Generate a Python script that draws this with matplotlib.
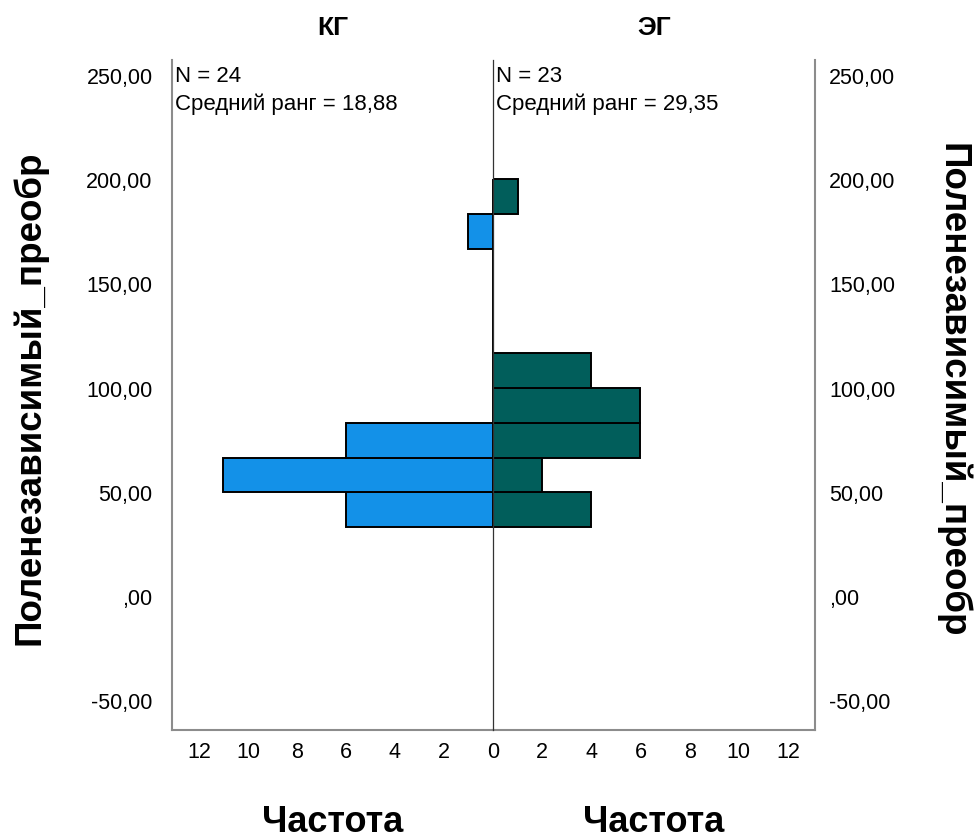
import matplotlib
matplotlib.use("Agg")
import matplotlib.pyplot as plt
from matplotlib import font_manager

# bins of the histogram (value axis)
bin_start = 33.4
bin_width = 16.7
kg_counts = [6, 11, 6, 0, 0, 0, 0, 0, 1, 0]
eg_counts = [4, 2, 6, 6, 4, 0, 0, 0, 0, 1]
group_names = ["КГ", "ЭГ"]
group_n = [24, 23]
mean_ranks = ["18,88", "29,35"]
y_ticks = [-50, 0, 50, 100, 150, 200, 250]
x_ticks_left = [2, 4, 6, 8, 10, 12]
x_ticks_right = [0, 2, 4, 6, 8, 10, 12]
var_name = "Полонезависимый_преобр".replace("Полон", "Полен")

names = {f.name for f in font_manager.fontManager.ttflist}
narrow = "Liberation Sans Narrow" if "Liberation Sans Narrow" in names else "Liberation Sans"
plt.rcParams["font.family"] = ["Liberation Sans", "DejaVu Sans"]

blue = "#1391E8"
teal = "#015E5B"
frame = "#8c8c8c"

fig = plt.figure(figsize=(9.77, 8.4), dpi=100)
ax_l = fig.add_axes([0.176, 0.131, 0.3286, 0.7976])
ax_r = fig.add_axes([0.5046, 0.131, 0.3296, 0.7976])
ax_r.patch.set_visible(False)

bottoms = [bin_start + i * bin_width for i in range(len(kg_counts))]
ax_l.barh(bottoms, kg_counts, height=bin_width, align="edge",
          color=blue, edgecolor="black", linewidth=1.4, zorder=3)
ax_r.barh(bottoms, eg_counts, height=bin_width, align="edge",
          color=teal, edgecolor="black", linewidth=1.4, zorder=3)

xmax = 13.1
ax_l.set_xlim(xmax, 0)
ax_r.set_xlim(0, xmax)
for ax in (ax_l, ax_r):
    ax.set_ylim(-63.9, 257.7)
    ax.spines["top"].set_visible(False)
    ax.spines["bottom"].set_color(frame)
    ax.spines["bottom"].set_linewidth(1.5)
    ax.tick_params(length=0, labelsize=15.5, pad=9)

ax_l.spines["left"].set_color(frame)
ax_l.spines["left"].set_linewidth(1.5)
ax_l.spines["right"].set_visible(False)
ax_r.spines["left"].set_color("#333333")
ax_r.spines["left"].set_linewidth(0.9)
ax_r.spines["left"].set_zorder(5)
ax_r.spines["right"].set_color(frame)
ax_r.spines["right"].set_linewidth(1.5)

ylabels = [f"{v},00" if v != 0 else ",00" for v in y_ticks]
ax_l.set_yticks(y_ticks)
ax_l.set_yticklabels(ylabels)
ax_l.tick_params(axis="y", pad=14)
ax_r.set_yticks(y_ticks)
ax_r.yaxis.tick_right()
ax_r.set_yticklabels(ylabels)
ax_r.tick_params(axis="y", pad=10)

ax_l.set_xticks(x_ticks_left)
ax_l.set_xticklabels([str(v) for v in x_ticks_left])
ax_r.set_xticks(x_ticks_right)
ax_r.set_xticklabels([str(v) for v in x_ticks_right])

for ax, name, n, rank in zip((ax_l, ax_r), group_names, group_n, mean_ranks):
    pos = ax.get_position()
    xc = (pos.x0 + pos.x1) / 2
    fig.text(xc, 1 - 28 / 840, name, fontsize=19, fontweight="bold", family=narrow,
             ha="center", va="center")
    fig.text(xc, 1 - 822 / 840, "Частота", fontsize=26, fontweight="bold", family=narrow,
             ha="center", va="center")
    ax.text(0.008, 0.975, f"N = {n}", transform=ax.transAxes, fontsize=16,
            va="center", ha="left")
    ax.text(0.008, 0.934, f"Средний ранг = {rank}", transform=ax.transAxes,
            fontsize=16, va="center", ha="left")

fig.text(30 / 977, 1 - 398 / 840, var_name, fontsize=26.5, fontweight="bold",
         family=narrow, rotation=90, ha="center", va="center")
fig.text(952 / 977, 1 - 390 / 840, var_name, fontsize=26.5, fontweight="bold",
         family=narrow, rotation=270, ha="center", va="center")

fig.savefig("out.png", dpi=100)
